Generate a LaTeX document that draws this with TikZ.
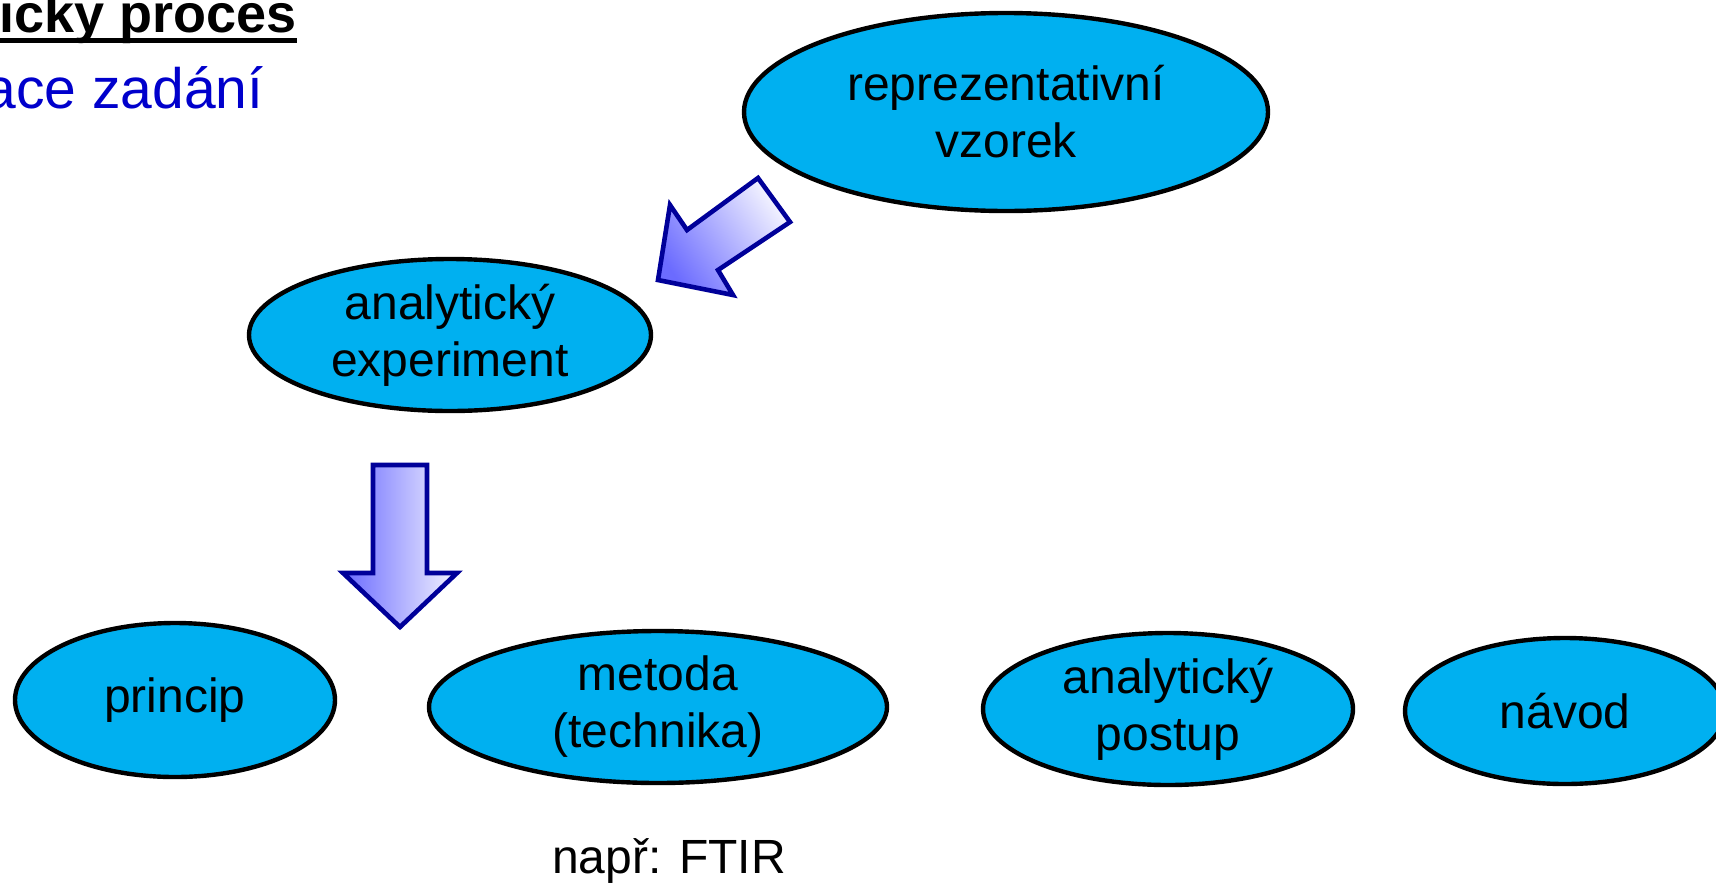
\documentclass[tikz,border=0pt]{standalone}
\usepackage{fontspec}
\setmainfont{Liberation Sans}
\usetikzlibrary{shapes.geometric,positioning}
\definecolor{skyfill}{HTML}{00B0F0}
\definecolor{arrowline}{HTML}{000099}
\definecolor{arrowblue}{HTML}{6B6BFF}
\definecolor{arrowwhite}{HTML}{F4F4FF}
\definecolor{subblue}{HTML}{0000CC}

\begin{document}
\begin{tikzpicture}[x=0.5pt,y=-0.5pt,
  blob/.style={ellipse,draw=black,line width=2.2pt,fill=skyfill,inner sep=0pt,
    align=center,font=\fontsize{24}{28.5}\selectfont},
  blockarrow/.style={draw=arrowline,line width=2.3pt,line join=miter}]
	\useasboundingbox (0,0) rectangle (1716,884);
	\clip (0,0) rectangle (1716,884);
	\fill[white] (0,0) rectangle (1716,884);

	% heading, cut at the left edge
	\node[anchor=base east,inner sep=0pt,font=\fontsize{27}{31}\selectfont\bfseries] (title) at (297,32) {Analyticky proces};
	\draw[line width=2.6pt] ([yshift=-4.3pt]title.base west) -- ([yshift=-4.3pt]title.base east);
	\node[anchor=base east,inner sep=0pt,text=subblue,font=\fontsize{28.5}{32}\selectfont] (task) at (264,108) {Specifikace zadání};

	\node[blob,minimum width=262pt,minimum height=99pt] (vzorek)     at (1006,112) {reprezentativní\\vzorek};
	\node[blob,minimum width=201pt,minimum height=76pt] (experiment) at (450,335)  {analytický\\experiment};
	\node[blob,minimum width=160pt,minimum height=77pt] (princip)    at (175,700)  {princip};
	\node[blob,minimum width=229pt,minimum height=76pt] (metoda)     at (658,707)  {metoda\\(technika)};
	\node[blob,minimum width=185pt,minimum height=76pt] (postup)     at (1168,709) {analytický\\postup};
	\node[blob,minimum width=160pt,minimum height=73pt] (navod)      at (1565,711) {návod};

	\node[font=\fontsize{24}{28}\selectfont] (example) at (669,861) {např: FTIR};

	% block arrows
	\draw[blockarrow,left color=arrowblue,right color=arrowwhite,shading angle=125]
	  (758,178) -- (790,222) -- (718,270) -- (733,295) -- (658,280) -- (670,205) -- (687,230) -- cycle;
	\draw[blockarrow,left color=arrowblue,right color=arrowwhite]
	  (373,465) -- (427,465) -- (427,573) -- (457,573) -- (400,627) -- (343,573) -- (373,573) -- cycle;
\end{tikzpicture}
\end{document}
